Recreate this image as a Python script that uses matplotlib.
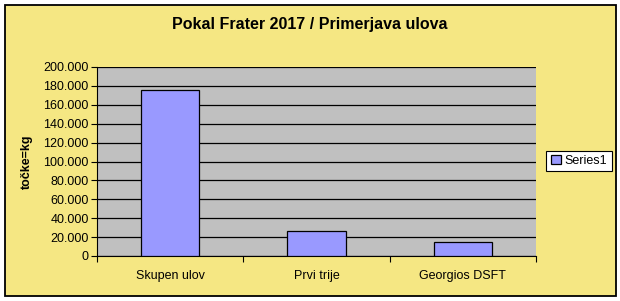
import matplotlib.pyplot as plt
from matplotlib.ticker import FuncFormatter, MultipleLocator
from matplotlib.patches import Rectangle

categories = ["Skupen ulov", "Prvi trije", "Georgios DSFT"]
values = [175700, 26800, 14500]

plt.rcParams['font.family'] = ['Liberation Sans', 'DejaVu Sans']

W, H = 620, 301
bg = '#F5E783'
fig = plt.figure(figsize=(6.2, 3.01), dpi=100, facecolor='white')
# yellow chart area with black border (behind the axes)
fig.patches.append(Rectangle((5 / W, 1 - 296 / H), (616 - 5) / W, (296 - 5) / H,
                             transform=fig.transFigure, facecolor=bg,
                             edgecolor='black', linewidth=1.3, zorder=-5))

ax = fig.add_axes([97 / W, 1 - 256 / H, (536 - 97) / W, (256 - 67) / H])
ax.set_zorder(1)
ax.set_facecolor('#C0C0C0')
x = range(len(categories))
ax.bar(x, values, width=0.4, color='#9999FF', edgecolor='black', linewidth=0.9,
       label='Series1', zorder=3)

ax.set_xlim(-0.5, 2.5)
ax.set_ylim(0, 200000)
ax.yaxis.set_major_locator(MultipleLocator(20000))
ax.yaxis.set_major_formatter(FuncFormatter(lambda v, p: f"{int(v):,}".replace(',', '.')))
ax.yaxis.grid(True, color='black', linewidth=0.9, zorder=1)
ax.set_xticks([-0.5, 0.5, 1.5, 2.5])
ax.set_xticklabels([])
ax.set_xticks(list(x), minor=True)
ax.set_xticklabels(categories, minor=True)
ax.tick_params(axis='x', which='minor', length=0, pad=10, labelsize=9)
ax.tick_params(axis='x', which='major', length=4, color='black')
ax.tick_params(axis='y', length=4, labelsize=9, pad=2)
for s in ['top', 'right']:
    ax.spines[s].set_visible(False)
for s in ['left', 'bottom']:
    ax.spines[s].set_color('black')

ax.set_ylabel('točke=kg', fontsize=9, fontweight='bold', labelpad=6)
ax.yaxis.set_label_coords(-64 / 439, 0.5)

fig.text(0.5, 1 - 25 / H, 'Pokal Frater 2017 / Primerjava ulova', ha='center', va='center',
         fontsize=11.5, fontweight='bold')

leg = fig.legend(loc='center', bbox_to_anchor=(579 / W, 1 - 161 / H), fontsize=9,
                 frameon=True, fancybox=False, edgecolor='black', framealpha=1,
                 handlelength=0.8, handleheight=0.8, handletextpad=0.3,
                 borderpad=0.35, borderaxespad=0)
leg.get_frame().set_linewidth(0.8)
leg.set_zorder(2)

fig.savefig('out.png', dpi=100, facecolor='white')
